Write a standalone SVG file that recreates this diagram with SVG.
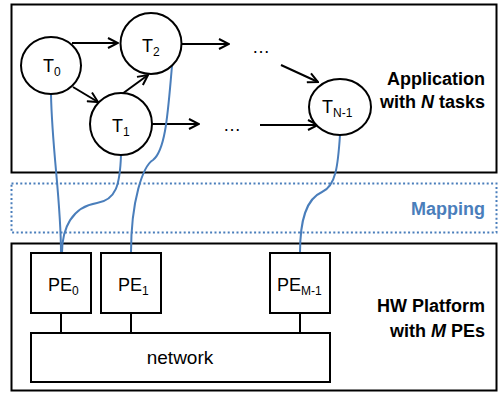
<svg xmlns="http://www.w3.org/2000/svg" width="499" height="393" viewBox="0 0 499 393">
<defs>
<marker id="ah" viewBox="0 0 12 12" refX="11" refY="6" markerWidth="12" markerHeight="12" markerUnits="userSpaceOnUse" orient="auto">
<path d="M1,1 L11,6 L1,11" fill="none" stroke="#000" stroke-width="2" stroke-linejoin="miter"/>
</marker>
</defs>
<style>
.box{fill:#fff;stroke:#000;stroke-width:2}
.node{fill:#fff;stroke:#000;stroke-width:2}
.arr{fill:none;stroke:#000;stroke-width:2;marker-end:url(#ah)}
.map{fill:none;stroke:#4a7ebb;stroke-width:2}
.lnk{stroke:#000;stroke-width:2}
text{font-family:"Liberation Sans",Arial,sans-serif;fill:#000}
.t{font-size:18px}
.s{font-size:12px}
.lbl{font-size:18px;font-weight:bold;text-anchor:end}
</style>
<rect id="app" class="box" x="11.5" y="4.5" width="485" height="168"/>
<rect id="mapping" x="11.5" y="183.5" width="485" height="49" fill="none" stroke="#4a7ebb" stroke-width="2" stroke-dasharray="2,2.4"/>
<rect id="hw" class="box" x="11.5" y="243.5" width="485" height="147"/>
<g id="labels">
<text class="lbl" x="485" y="85">Application</text>
<text class="lbl" x="485" y="108">with <tspan font-style="italic">N</tspan> tasks</text>
<text class="lbl" x="485" y="215" fill="#4a7ebb" style="fill:#4a7ebb">Mapping</text>
<text class="lbl" x="485" y="312">HW Platform</text>
<text class="lbl" x="485" y="337">with <tspan font-style="italic">M</tspan> PEs</text>
</g>
<g id="connectors">
<line class="arr" x1="72" y1="43" x2="118" y2="43"/>
<line class="arr" x1="73" y1="87" x2="98" y2="102"/>
<line class="arr" x1="122" y1="94" x2="148" y2="75"/>
<line class="arr" x1="182" y1="44" x2="229" y2="44"/>
<line class="arr" x1="152" y1="124" x2="199" y2="124"/>
<line class="arr" x1="281" y1="65" x2="318" y2="82"/>
<line class="arr" x1="260" y1="125" x2="318" y2="125"/>
<path class="map" d="M51,94 C52,150 61,200 61,253"/>
<path class="map" d="M121,155 C120,185 116,200 97,203 C72,207 62,228 62,253"/>
<path class="map" d="M172,66 C168,110 166,150 153,160 C143,166 131,200 131,253"/>
<path class="map" d="M340,135 C338,165 336,186 322,192 C306,199 300,220 300,253"/>
<line class="lnk" x1="61" y1="313" x2="61" y2="333"/>
<line class="lnk" x1="131" y1="313" x2="131" y2="333"/>
<line class="lnk" x1="300" y1="313" x2="300" y2="333"/>
</g>
<text x="223" y="131" class="t">…</text>
<text x="252" y="53" class="t">…</text>
<g id="T0"><ellipse class="node" cx="51" cy="65.5" rx="30" ry="28.5"/><text class="t" x="43" y="72">T<tspan class="s" dy="4">0</tspan></text></g>
<g id="T2"><circle class="node" cx="151" cy="43.5" r="30.5"/><text class="t" x="142" y="52">T<tspan class="s" dy="4">2</tspan></text></g>
<g id="T1"><circle class="node" cx="121" cy="124" r="31"/><text class="t" x="112" y="132">T<tspan class="s" dy="4">1</tspan></text></g>
<g id="TN1"><ellipse class="node" cx="340" cy="107" rx="31" ry="28"/><text class="t" x="322" y="113">T<tspan class="s" dy="4">N-1</tspan></text></g>
<g id="PE0"><rect class="box" x="31" y="253" width="60" height="60"/><text class="t" x="48" y="291">PE<tspan class="s" dy="4">0</tspan></text></g>
<g id="PE1"><rect class="box" x="101" y="253" width="60" height="60"/><text class="t" x="118" y="291">PE<tspan class="s" dy="4">1</tspan></text></g>
<g id="PEM1"><rect class="box" x="270" y="253" width="60" height="60"/><text class="t" x="277" y="291">PE<tspan class="s" dy="4">M-1</tspan></text></g>
<g id="network"><rect class="box" x="31" y="333" width="299" height="49"/><text x="180" y="364" font-size="19" text-anchor="middle">network</text></g>
</svg>
